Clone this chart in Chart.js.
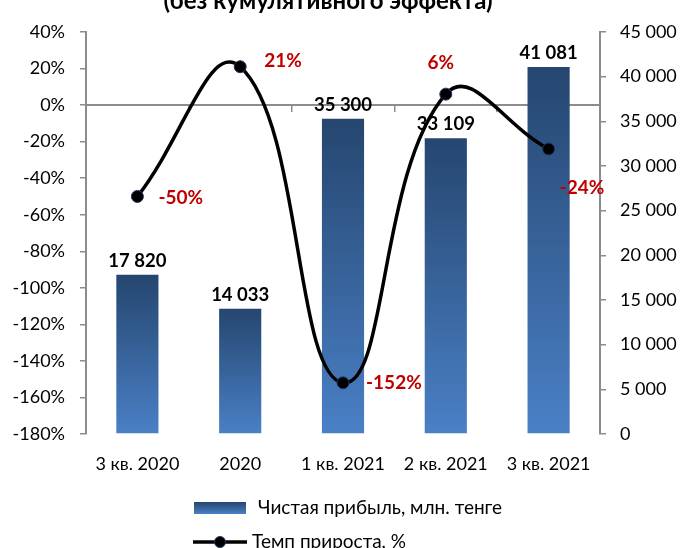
<!DOCTYPE html>
<html>
<head>
<meta charset="utf-8">
<title>Чистая прибыль</title>
<script src="https://cdn.jsdelivr.net/npm/chart.js"></script>
<style>
html,body{margin:0;padding:0;background:#fff}
</style>
</head>
<body>
<canvas id="profitChart" width="680" height="548"></canvas>
<script>
const categories=['3 кв. 2020','2020','1 кв. 2021','2 кв. 2021','3 кв. 2021'];
const profit=[17820,14033,35300,33109,41081];
const growth=[-50,21,-152,6,-24];
const profitName='Чистая прибыль, млн. тенге';
const growthName='Темп прироста, %';
const titleText='(без кумулятивного эффекта)';

// label nudges for the red % labels: dx, dy, align
const growthLabelPos=[[21,1,'left'],[24,-6,'left'],[23,0,'left'],[-5,-31,'center'],[11,39,'left']];

const FONT='Lato, "Open Sans", sans-serif';
const fmt=v=>String(v).replace(/\B(?=(\d{3})+(?!\d))/g,' ');

function barGradient(c,top,bottom){
    const g=c.createLinearGradient(0,top,0,bottom);
    g.addColorStop(0,'#25466f');
    g.addColorStop(1,'#4a80c6');
    return g;
}

const extras={
    id:'extras',
    afterDatasetDraw(chart,args){
        const c=chart.ctx;
        c.save();
        c.textBaseline='middle';
        if(args.index===0){
            c.font='bold 18.5px '+FONT;
            c.fillStyle='#000';
            c.textAlign='center';
            args.meta.data.forEach((bar,i)=>c.fillText(fmt(profit[i]),bar.x,bar.y-14));
        }else{
            c.font='bold 19px '+FONT;
            c.fillStyle='#c00000';
            args.meta.data.forEach((pt,i)=>{
                const p=growthLabelPos[i];
                c.textAlign=p[2];
                c.fillText(growth[i]+'%',pt.x+p[0],pt.y+p[1]);
            });
        }
        c.restore();
    },
    afterDraw(chart){
        const c=chart.ctx;
        c.save();
        c.font='bold 24px '+FONT;
        c.fillStyle='#000';
        c.textAlign='center';
        c.textBaseline='alphabetic';
        c.fillText(titleText,328,9);

        // legend
        c.fillStyle=barGradient(c,502,514);
        c.fillRect(194,502,52,12);
        c.font='19px '+FONT;
        c.fillStyle='#000';
        c.textAlign='left';
        c.textBaseline='middle';
        c.fillText(profitName,258,508);
        c.strokeStyle='#000';
        c.lineWidth=3.5;
        c.beginPath();c.moveTo(193,542);c.lineTo(247,542);c.stroke();
        c.beginPath();c.arc(220,542,5.5,0,Math.PI*2);
        c.fillStyle='#000';c.fill();
        c.lineWidth=1;c.strokeStyle='#1f3864';c.stroke();
        c.fillStyle='#000';
        c.fillText(growthName,252,542);
        c.restore();
    }
};

const axisGray='#8c8c8c';
const tickFont={family:FONT,size:18};

const chart=new Chart(document.getElementById('profitChart'),{
    type:'bar',
    data:{
        labels:categories,
        datasets:[
            {
                type:'bar',label:profitName,data:profit,yAxisID:'y1',xAxisID:'x',order:2,
                barPercentage:0.82,categoryPercentage:0.5,
                backgroundColor(ctx){
                    const ch=ctx.chart;
                    if(!ch.chartArea||ctx.type!=='data')return '#3a64a0';
                    const s=ch.scales.y1;
                    return barGradient(ch.ctx,s.getPixelForValue(ctx.raw),s.getPixelForValue(0));
                }
            },
            {
                type:'line',label:growthName,data:growth,yAxisID:'y',xAxisID:'x',order:1,
                borderColor:'#000',borderWidth:3.5,tension:0.45,
                pointRadius:6,pointHoverRadius:6,pointBackgroundColor:'#000',
                pointBorderColor:'#1f3864',pointBorderWidth:1
            }
        ]
    },
    options:{
        responsive:false,
        animation:false,
        layout:{padding:{top:32,left:0,right:0,bottom:0}},
        plugins:{legend:{display:false},tooltip:{enabled:false}},
        scales:{
            x:{
                type:'category',position:'bottom',offset:true,
                grid:{display:false,drawTicks:false},
                border:{display:false},
                ticks:{font:tickFont,color:'#000',padding:19,maxRotation:0,autoSkip:false},
                afterFit(s){s.height=114;}
            },
            x2:{
                type:'category',position:{y:0},offset:true,
                grid:{offset:true,drawOnChartArea:false,drawTicks:true,tickLength:6,color:axisGray,lineWidth:1.5},
                border:{display:true,color:axisGray,width:2},
                ticks:{display:false}
            },
            y:{
                type:'linear',position:'left',min:-180,max:40,
                grid:{drawOnChartArea:false,drawTicks:true,tickLength:6,color:axisGray,lineWidth:1.5},
                border:{display:true,color:axisGray,width:2},
                ticks:{stepSize:20,font:tickFont,color:'#000',padding:15,callback:v=>v+'%'},
                afterFit(s){s.width=86;}
            },
            y1:{
                type:'linear',position:'right',min:0,max:45000,
                grid:{drawOnChartArea:false,drawTicks:true,tickLength:6,color:axisGray,lineWidth:1.5},
                border:{display:true,color:axisGray,width:2},
                ticks:{stepSize:5000,font:tickFont,color:'#000',padding:14,callback:v=>fmt(v)},
                afterFit(s){s.width=80;}
            }
        }
    },
    plugins:[extras]
});
</script>
</body>
</html>
